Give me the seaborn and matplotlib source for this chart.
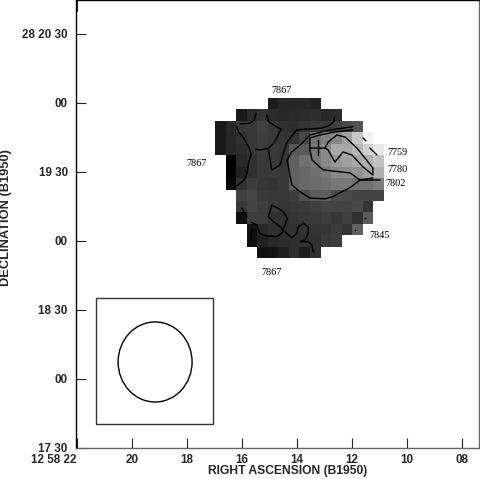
import numpy as np
import pandas as pd
import matplotlib
matplotlib.use('Agg')
import matplotlib.pyplot as plt
from matplotlib.patches import Rectangle, Ellipse
import seaborn as sns

_ = np.nan

# grey level of each map cell, north at the top
row00 = [_, _, _, _, _, 0x1c, 0x26, 0x28, 0x28, 0x22, _, _, _, _, _, _]
row01 = [_, _, 0x1a, 0x2a, 0x33, 0x2c, 0x28, 0x2a, 0x2c, 0x2e, 0x28, 0x2c, _, _, _, _]
row02 = [0x18, 0x28, 0x38, 0x3a, 0x40, 0x38, 0x30, 0x2e, 0x33, 0x38, 0x38, 0x40, 0x48, 0x55, _, _]
row03 = [0x18, 0x26, 0x30, 0x38, 0x3e, 0x3a, 0x34, 0x33, 0x48, 0x70, 0x80, 0x88, 0xa0, 0xc8, 0xf0, _]
row04 = [0x18, 0x26, 0x2c, 0x36, 0x3c, 0x3a, 0x36, 0x58, 0x5a, 0x78, 0x8a, 0xa8, 0xa8, 0xb8, 0xd0, 0xe8]
row05 = [_, 0x00, 0x28, 0x30, 0x38, 0x3a, 0x36, 0x60, 0x70, 0x78, 0x88, 0x98, 0xa0, 0xa8, 0xb0, 0xc0]
row06 = [_, 0x00, 0x22, 0x30, 0x38, 0x3a, 0x38, 0x60, 0x68, 0x70, 0x78, 0x88, 0x8c, 0x90, 0xa0, 0xb0]
row07 = [_, 0x08, 0x30, 0x3c, 0x36, 0x34, 0x38, 0x60, 0x68, 0x6c, 0x70, 0x78, 0x78, 0x70, 0x70, 0x7c]
row08 = [_, _, 0x40, 0x46, 0x3a, 0x38, 0x38, 0x3c, 0x50, 0x5c, 0x5c, 0x4c, 0x48, 0x44, 0x44, 0x44]
row09 = [_, _, 0x38, 0x44, 0x3e, 0x38, 0x36, 0x38, 0x3a, 0x40, 0x44, 0x44, 0x44, 0x4a, 0x34, _]
row10 = [_, _, 0x10, 0x3c, 0x3c, 0x32, 0x30, 0x34, 0x38, 0x3a, 0x3e, 0x36, 0x40, 0x30, 0x5c, _]
row11 = [_, _, _, 0x10, 0x28, 0x30, 0x2e, 0x30, 0x32, 0x34, 0x36, 0x3c, 0x34, 0x60, _, _]
row12 = [_, _, _, 0x10, 0x20, 0x28, 0x2c, 0x2e, 0x30, 0x30, 0x3a, 0x3e, _, _, _, _]
row13 = [_, _, _, _, 0x10, 0x12, 0x1e, 0x2e, 0x1e, 0x30, _, _, _, _, _, _]

# RA in seconds after 12 58, Dec in arcsec after 28 17 30
ra_ticks = [22, 20, 18, 16, 14, 12, 10, 8]
ra_labels = ['12 58 22', '20', '18', '16', '14', '12', '10', '08']
dec_ticks = [0, 30, 60, 90, 120, 150, 180]
dec_labels = ['17 30', '00', '18 30', '00', '19 30', '00', '28 20 30']

c1_ra = [16.19, 16.13, 15.93, 15.73, 15.67, 15.77, 15.81, 15.93, 16.19]
c1_dec = [139.7, 137.5, 134.6, 130.3, 127.4, 123.8, 119.4, 116.5, 113.9]
c2_ra = [16.07, 15.71, 15.56, 15.49]
c2_dec = [140.9, 141.2, 142.6, 145.5]
c3_ra = [15.10, 15.04, 14.74, 14.58, 14.72, 14.84, 15.04, 15.32, 15.49]
c3_dec = [144.8, 141.9, 139.7, 138.6, 135.3, 132.5, 130.3, 129.6, 129.9]
c4_ra = [15.04, 14.98, 14.92, 14.62, 14.50, 14.35, 14.01, 13.60, 13.09, 12.80, 12.65, 12.64]
c4_dec = [130.3, 125.2, 120.9, 123.0, 128.1, 133.2, 138.3, 138.7, 139.1, 140.4, 142.2, 143.5]
c7802_ra = [11.96, 12.80, 13.53, 13.89, 14.19, 14.36, 14.25, 14.19, 13.89, 13.53, 12.98, 12.69, 12.37, 12.07, 11.71, 11.24]
c7802_dec = [139.7, 138.3, 136.1, 131.7, 128.7, 125.2, 118.3, 114.4, 111.4, 108.7, 108.3, 109.3, 111.4, 113.2, 116.5, 117.4]
c7780_ra = [11.96, 12.62, 13.16, 13.53, 13.53, 13.45, 13.05, 12.07, 11.71, 10.98]
c7780_dec = [138.3, 137.4, 136.1, 134.8, 129.6, 125.2, 120.9, 119.6, 116.5, 116.5]
c7759_ra = [13.53, 12.98, 12.87, 12.55, 12.25, 11.82, 11.24, 11.24, 11.60, 12.00, 12.33, 12.62, 12.87, 12.98]
c7759_dec = [130.4, 130.4, 133.0, 136.1, 135.2, 130.4, 121.7, 118.7, 122.2, 127.4, 128.7, 124.3, 129.6, 130.4]
cross_ra = [13.24, 13.24]
cross_dec = [133.9, 127.4]
dash1_ra = [11.60, 11.49]
dash1_dec = [134.8, 133.5]
dash2_ra = [11.35, 11.09]
dash2_dec = [130.4, 127.4]
b1_ra = [16.01, 15.83]
b1_dec = [104.3, 100.6]
b2_ra = [15.65, 15.47, 15.35, 15.10, 14.74, 14.56, 14.44, 14.35, 14.50, 14.68, 14.92, 14.98, 15.04, 14.86,
         14.62, 14.44, 14.19, 14.01, 13.95, 13.77, 13.59, 13.59, 13.71, 13.89, 13.59, 13.46, 13.41]
b2_dec = [98.1, 97.0, 93.3, 92.2, 91.9, 93.3, 97.0, 99.9, 102.7, 104.2, 105.6, 102.7, 100.6, 98.4,
          96.2, 94.0, 91.4, 93.3, 96.2, 97.7, 96.2, 93.3, 90.4, 89.7, 89.7, 88.3, 85.3]
b3_ra = [15.65, 15.68]
b3_dec = [94.8, 90.4]
dots_ra = [11.53, 11.89]
dots_dec = [100.0, 94.8]

contours = [(c1_ra, c1_dec), (c2_ra, c2_dec), (c3_ra, c3_dec), (c4_ra, c4_dec),
            (c7802_ra, c7802_dec), (c7780_ra, c7780_dec), (c7759_ra, c7759_dec),
            (cross_ra, cross_dec), (dash1_ra, dash1_dec), (dash2_ra, dash2_dec),
            (b1_ra, b1_dec), (b2_ra, b2_dec), (b3_ra, b3_dec)]

level_labels = ['7867', '7867', '7867', '7759', '7780', '7802', '7845']
level_ra = [14.55, 17.64, 14.91, 10.36, 10.36, 10.43, 10.98]
level_dec = [155.6, 123.9, 76.1, 128.3, 121.3, 115.2, 92.6]

# limits of the frame and of the map
ra_left, ra_right = 22.036, 7.382
dec_bottom, dec_top = 0.0, 194.78
map_ra = (16.98, 10.84)
map_dec = (82.5, 152.2)

sns.set_style('white')
plt.rcParams['font.family'] = ['Liberation Sans', 'DejaVu Sans']

fig = plt.figure(figsize=(4.8, 4.79), dpi=100)
left, bottom, width, height = 76 / 480, 31 / 479, 403 / 480, 448 / 479
ax = fig.add_axes([left, bottom, width, height])
ax.set_xlim(ra_left, ra_right)
ax.set_ylim(dec_bottom, dec_top)
ax.patch.set_visible(False)
ax.set_zorder(2)

# the map gets its own axes lined up with the frame
x0 = left + width * (ra_left - map_ra[0]) / (ra_left - ra_right)
x1 = left + width * (ra_left - map_ra[1]) / (ra_left - ra_right)
y0 = bottom + height * (map_dec[0] - dec_bottom) / (dec_top - dec_bottom)
y1 = bottom + height * (map_dec[1] - dec_bottom) / (dec_top - dec_bottom)
ax_map = fig.add_axes([x0, y0, x1 - x0, y1 - y0])
grid = pd.DataFrame([row00, row01, row02, row03, row04, row05, row06,
                     row07, row08, row09, row10, row11, row12, row13])
sns.heatmap(grid, cmap='gray', vmin=0, vmax=255, cbar=False, square=False,
            xticklabels=False, yticklabels=False, ax=ax_map)
ax_map.set_xlabel('')
ax_map.set_ylabel('')
ax_map.axis('off')

for ra, dec in contours:
    sns.lineplot(x=ra, y=dec, sort=False, estimator=None, color='black',
                 linewidth=1.0, ax=ax)
ax.scatter(dots_ra, dots_dec, s=1.5, color='black', linewidths=0)

for lab, ra, dec in zip(level_labels, level_ra, level_dec):
    ax.text(ra, dec, lab, family='Liberation Serif', fontsize=7.4, color='black',
            ha='center', va='center')

# beam box
ax.add_patch(Rectangle((21.31, 10.4), 17.05 - 21.31, 65.2 - 10.4, fill=False,
                       edgecolor='#333333', linewidth=1.0))
ax.add_patch(Ellipse((19.16, 37.4), 2.69, 34.8, fill=False, edgecolor='black',
                     linewidth=1.0))

ax.set_xticks(ra_ticks)
ax.set_xticklabels(ra_labels, fontsize=8.4, fontweight='bold')
ax.set_yticks(dec_ticks)
ax.set_yticklabels(dec_labels, fontsize=8.4, fontweight='bold')
ax.get_xticklabels()[0].set_ha('right')
ax.tick_params(axis='x', direction='in', length=7.4, width=0.8, color='#222222',
               bottom=True, pad=4, labelsize=8.4)
ax.tick_params(axis='y', direction='in', length=7.4, width=0.8, color='#222222',
               left=True, pad=6, labelsize=8.4)
ax.plot([22, 22], [dec_top, dec_top - 4.8], color='#222222', linewidth=0.8)

for name, col in [('left', 'black'), ('top', 'black'), ('right', '#666666'), ('bottom', '#666666')]:
    ax.spines[name].set_visible(True)
    ax.spines[name].set_color(col)
    ax.spines[name].set_linewidth(1.0)

fig.text(288 / 480, 1 - 471 / 479, 'RIGHT ASCENSION (B1950)', fontsize=8.7,
         fontweight='bold', ha='center', va='center')
fig.text(6 / 480, 1 - 218 / 479, 'DECLINATION (B1950)', rotation=90, fontsize=9.3,
         fontweight='bold', ha='center', va='center')

fig.savefig('out.png', dpi=100)
